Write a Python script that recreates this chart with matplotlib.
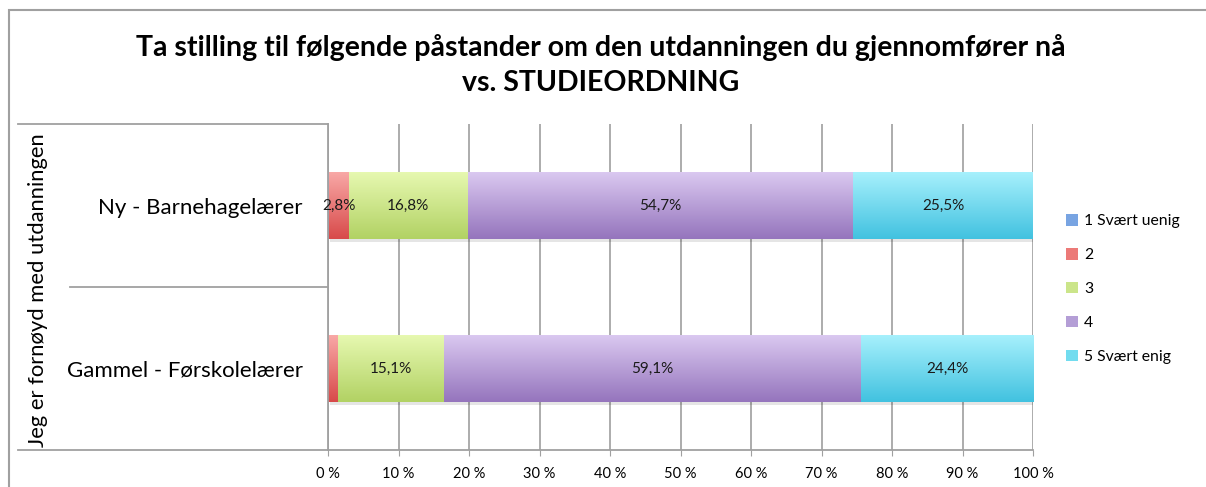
import numpy as np
import matplotlib
matplotlib.use('Agg')
import matplotlib.pyplot as plt
from matplotlib.colors import LinearSegmentedColormap
from matplotlib.patches import Patch, Rectangle
from matplotlib.lines import Line2D

plt.rcParams['font.family'] = ['Lato', 'DejaVu Sans']

# data
categories = ['Gammel - Førskolelærer', 'Ny - Barnehagelærer']
series_names = ['1 Svært uenig', '2', '3', '4', '5 Svært enig']
values = {
    '1 Svært uenig': [0.0, 0.2],
    '2':             [1.4, 2.8],
    '3':             [15.1, 16.8],
    '4':             [59.1, 54.7],
    '5 Svært enig':  [24.4, 25.5],
}
xtick_labels = ['%d %%' % v for v in range(0, 101, 10)]
title = 'Ta stilling til følgende påstander om den utdanningen du gjennomfører nå\nvs. STUDIEORDNING'
ylabel = 'Jeg er fornøyd med utdanningen'

# (bottom colour, top colour) for the excel-like gradient
grad_colors = {
    '1 Svært uenig': ('#4a7fd0', '#a8c8f2'),
    '2':             ('#d84a4a', '#f8a8a6'),
    '3':             ('#b2d264', '#e6f8b0'),
    '4':             ('#9575bd', '#dac8f0'),
    '5 Svært enig':  ('#42c2e0', '#a6f0fc'),
}
legend_colors = ['#78a4e2', '#ec7a78', '#cbe58a', '#b49ed6', '#72dcef']

W, H = 1206, 487
fig = plt.figure(figsize=(W / 100, H / 100), dpi=100)
ax = fig.add_axes([328 / W, 1 - 450 / H, (1033 - 328) / W, (450 - 124) / H])

bar_h = 0.405
grad = np.linspace(0, 1, 64).reshape(-1, 1)
ypos = np.arange(len(categories))
left = np.zeros(len(categories))

# shadow under each stacked bar
totals = np.sum([values[s] for s in series_names], axis=0)
ax.barh(ypos - 0.022, totals, height=bar_h, left=0.3, color='#000000', alpha=0.10, zorder=1.5)

for s in series_names:
    vals = np.array(values[s])
    cmap = LinearSegmentedColormap.from_list(s, grad_colors[s])
    for i, v in enumerate(vals):
        if v <= 0:
            continue
        ax.imshow(grad, extent=[left[i], left[i] + v, ypos[i] - bar_h / 2, ypos[i] + bar_h / 2],
                  origin='lower', aspect='auto', cmap=cmap, zorder=2, interpolation='bilinear')
        if v >= 2:
            ax.text(left[i] + v / 2, ypos[i], ('%.1f%%' % v).replace('.', ','),
                    ha='center', va='center', fontsize=11, color='#1a1a1a', zorder=3)
    left += vals

ax.set_xlim(0, 100)
ax.set_ylim(-0.5, 1.5)
ax.set_xticks(range(0, 101, 10))
ax.set_xticklabels(xtick_labels, fontsize=10.5)
ax.set_yticks(ypos)
ax.set_yticklabels(categories, fontsize=16)
ax.tick_params(axis='y', length=0, pad=18)
ax.tick_params(axis='x', length=4, color='#a0a0a0', pad=8)
ax.xaxis.grid(True, color='#a6a6a6', linewidth=1.3)
ax.set_axisbelow(True)
for sp in ['top', 'right']:
    ax.spines[sp].set_visible(False)
for sp in ['left', 'bottom']:
    ax.spines[sp].set_color('#a0a0a0')
    ax.spines[sp].set_linewidth(1.3)

# category-axis separators
for y0, x0 in [(124, 18), (287, 70), (450, 18)]:
    fig.add_artist(Line2D([x0 / W, 328 / W], [1 - y0 / H, 1 - y0 / H],
                          color='#a0a0a0', linewidth=1.3))

fig.text(38 / W, 1 - 290 / H, ylabel, rotation=90, ha='center', va='center', fontsize=15.8)
fig.text(601 / W, 1 - 65 / H, title, ha='center', va='center', fontsize=20.5,
         fontweight='bold', linespacing=1.4)

handles = [Patch(facecolor=c, edgecolor='none') for c in legend_colors]
fig.legend(handles, series_names, loc='upper left', bbox_to_anchor=(1060 / W, 1 - 208 / H),
           frameon=False, fontsize=11.3, handlelength=0.75, handleheight=0.75,
           handletextpad=0.4, labelspacing=1.25, borderaxespad=0)

# outer chart frame
fig.add_artist(Rectangle((9 / W, -0.2), 1.2, 1.2 - 10 / H, fill=False,
                         edgecolor='#a0a0a0', linewidth=1.5, transform=fig.transFigure))

fig.savefig('out.png', dpi=100)
